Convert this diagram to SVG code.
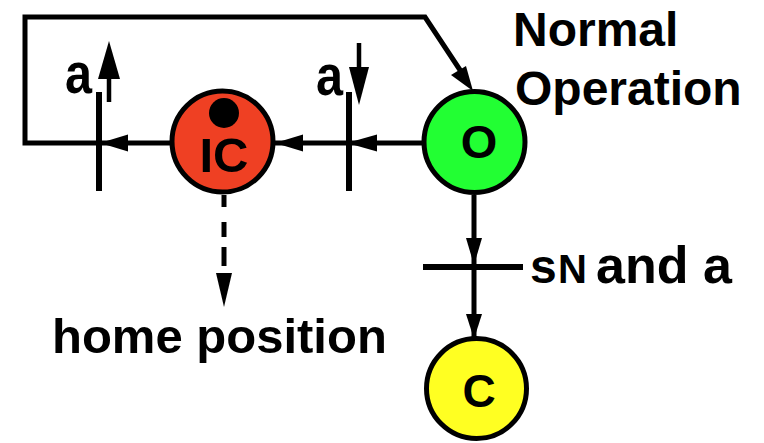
<svg xmlns="http://www.w3.org/2000/svg" width="764" height="443" viewBox="0 0 764 443">
<style>
.ln{fill:none;stroke:#000;stroke-width:5;stroke-linecap:butt;stroke-linejoin:miter}
.bar{fill:none;stroke:#000;stroke-width:6}
.ah{fill:#000;stroke:none}
.node{stroke:#000;stroke-width:5}
.t{font-family:"Liberation Sans",Arial,Helvetica,sans-serif;font-weight:bold;fill:#000}
</style>
<rect width="764" height="443" fill="#fff"/>
<g id="connectors">
  <polyline class="ln" points="422,143 25,143 25,17 425,17 462,73"/>
  <polygon class="ah" points="473,91 451,75 466,66"/>
  <polygon class="ah" points="100,143 128,134.5 128,151.5"/>
  <polygon class="ah" points="275,143 303,134.5 303,151.5"/>
  <polygon class="ah" points="347,143 377,134.5 377,151.5"/>
  <line class="bar" x1="99" y1="92" x2="99" y2="191"/>
  <line class="bar" x1="349" y1="92" x2="349" y2="191"/>
  <line class="ln" x1="109" y1="102" x2="109" y2="76" style="stroke-width:4.5"/>
  <polygon class="ah" points="109,41 98,79 120,79"/>
  <line class="ln" x1="359" y1="43" x2="359" y2="70" style="stroke-width:4.5"/>
  <polygon class="ah" points="359,105 349,67 369,67"/>
  <line class="ln" x1="474" y1="195" x2="474" y2="337"/>
  <polygon class="ah" points="474,265 466,238 482,238"/>
  <polygon class="ah" points="474,339 466,314 482,314"/>
  <line class="bar" x1="423" y1="267" x2="523" y2="267"/>
  <g class="ln">
    <line x1="224" y1="195" x2="224" y2="207"/>
    <line x1="224" y1="222" x2="224" y2="237"/>
    <line x1="224" y1="247" x2="224" y2="266"/>
  </g>
  <polygon class="ah" points="224,307 216,273 232,273"/>
</g>
<g id="node-IC">
  <circle class="node" cx="222.5" cy="141.5" r="50.5" fill="#ef4023"/>
  <circle cx="224" cy="113" r="15" fill="#000"/>
  <text class="t" x="224" y="172" font-size="49" text-anchor="middle">IC</text>
</g>
<g id="node-O">
  <circle class="node" cx="474.5" cy="142" r="50.5" fill="#22ff33"/>
  <text class="t" x="479" y="158" font-size="47" text-anchor="middle">O</text>
</g>
<g id="node-C">
  <circle class="node" cx="476.5" cy="388.5" r="50" fill="#ffff22"/>
  <text class="t" x="479" y="407" font-size="46" text-anchor="middle">C</text>
</g>
<g id="labels">
  <text class="t" x="65" y="93" font-size="57" textLength="27" lengthAdjust="spacingAndGlyphs">a</text>
  <text class="t" x="316" y="95" font-size="57" textLength="27" lengthAdjust="spacingAndGlyphs">a</text>
  <text class="t" x="513" y="46" font-size="48">Normal</text>
  <text class="t" x="515" y="105" font-size="48">Operation</text>
  <text class="t" x="52" y="353" font-size="49">home position</text>
  <text class="t" x="530" y="283" font-size="48">s</text>
  <text class="t" x="558" y="283" font-size="40">N</text>
  <text class="t" x="596" y="283" font-size="52">and a</text>
</g>
</svg>
